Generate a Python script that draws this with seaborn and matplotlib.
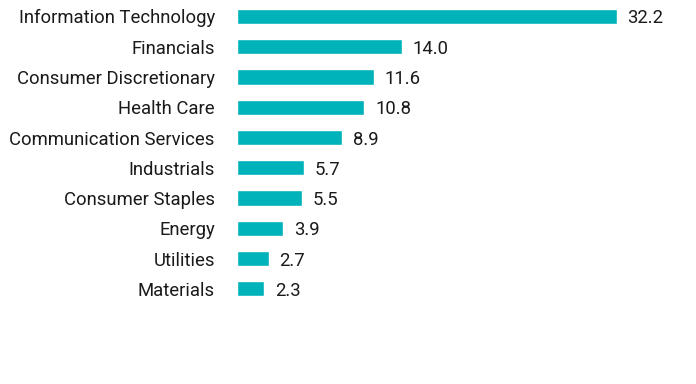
import pandas as pd
import seaborn as sns
import matplotlib.pyplot as plt

sectors = ["Information Technology", "Financials", "Consumer Discretionary",
           "Health Care", "Communication Services", "Industrials",
           "Consumer Staples", "Energy", "Utilities", "Materials"]
weights = [32.2, 14.0, 11.6, 10.8, 8.9, 5.7, 5.5, 3.9, 2.7, 2.3]

df = pd.DataFrame({"sector": sectors, "weight": weights})

sns.set_style("white")
plt.rcParams['font.family'] = ['Roboto', 'DejaVu Sans']

fig = plt.figure(figsize=(6.96, 3.84), dpi=100)
ax = fig.add_axes([237 / 696, 1 - 304 / 384, (617 - 237) / 696, 302.7 / 384])

sns.barplot(data=df, x="weight", y="sector", color="#00B2B9", width=0.5,
            saturation=1, ax=ax)

ax.set_xlim(0, 32.2)
ax.set_ylim(9.5, -0.5)
ax.set_xlabel("")
ax.set_ylabel("")
ax.set_xticks([])
ax.tick_params(axis="y", length=0, pad=16, labelsize=13.3, labelcolor="#1a1a1a")
for s in ax.spines.values():
    s.set_visible(False)

for i, v in enumerate(weights):
    ax.text(v + 0.9, i, f"{v:.1f}", va="center_baseline", ha="left",
            fontsize=13.3, color="#1a1a1a", clip_on=False)

fig.savefig("out.png", dpi=100)
